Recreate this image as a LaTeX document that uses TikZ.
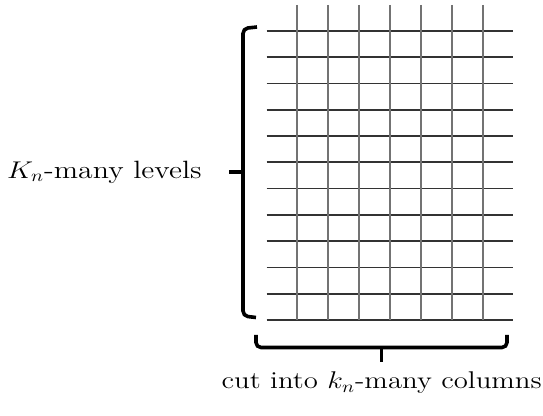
\documentclass[tikz,border=0pt]{standalone}
\usepackage{amsmath}
\usetikzlibrary{positioning}

\newcommand{\lblfont}{\fontsize{14.4}{17}\selectfont}
\newcommand{\squash}[1]{\scalebox{1}[0.84]{#1}}

\begin{document}
\begin{tikzpicture}[
  x=0.5pt, y=-0.5pt,
  hline/.style={line width=0.85pt, black!80},
  vline/.style={line width=0.85pt, black!55},
  brace/.style={line width=1.8pt, rounded corners=2.5pt},
  lbl/.style={inner sep=0pt, font=\lblfont}
]
  \useasboundingbox (0,0) rectangle (543,416);

  % the grid
  \foreach \i in {0,...,11}
    \draw[hline] (266.7,31+26.27*\i) -- (513,31+26.27*\i);
  \foreach \j in {0,...,6}
    \draw[vline] (297.3+30.9*\j,5) -- (297.3+30.9*\j,320);

  % braces
  \coordinate (ltick) at (229,172);
  \coordinate (btick) at (381.7,362);
  \draw[brace] (257,27) -- (243,28.5) -- (243,316) -- (256,317.5);
  \draw[brace] (243,172) -- (ltick);
  \draw[brace] (256,335) -- (256,347.5) -- (507,347.5) -- (507,335);
  \draw[brace] (381.7,347.5) -- (btick);

  \node[lbl, left=13.5pt of ltick, font=\fontsize{14.9}{17}\selectfont] (levels) {\squash{$K_n$-many levels}};
  \node[lbl, below=4.8pt of btick] (columns) {\squash{cut into $k_n$-many columns}};
\end{tikzpicture}
\end{document}
